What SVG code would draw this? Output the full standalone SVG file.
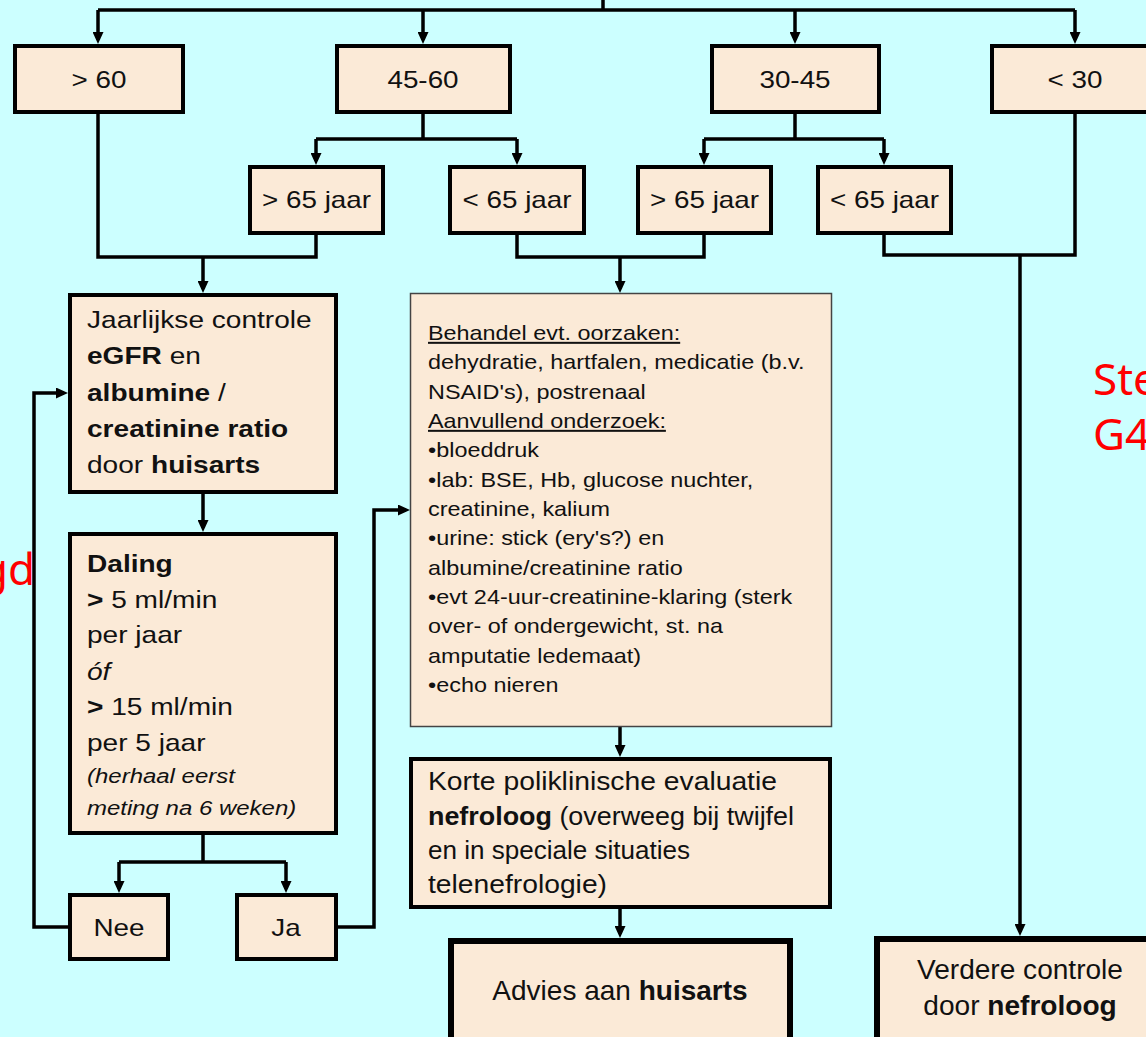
<svg xmlns="http://www.w3.org/2000/svg" width="1146" height="1037" viewBox="0 0 1146 1037">
<style>
.box{fill:#FBEAD7;stroke:#000;stroke-width:4}
.thin{fill:#FBEAD7;stroke:#444;stroke-width:1.5}
.big{fill:#FBEAD7;stroke:#000;stroke-width:6}
.t{font-family:'Liberation Sans',Arial,Helvetica,sans-serif;fill:#111}
.s24{font-size:24px}
.s20{font-size:20px}
.c{text-anchor:middle}
.b{font-weight:bold}
.i{font-style:italic}
.u{text-decoration:underline}
.red{font-family:'Noto Sans','Open Sans',sans-serif;font-size:44px;fill:#FF0000}
.ln{fill:none;stroke:#000;stroke-width:3.5;stroke-linejoin:miter;stroke-linecap:butt}
.ar{marker-end:url(#ah)}
</style>
<defs>
<marker id="ah" markerUnits="userSpaceOnUse" markerWidth="12" markerHeight="11" refX="8" refY="5.5" orient="auto">
<path d="M0,0 L12,5.5 L0,11 z" fill="#000"/>
</marker>
</defs>
<rect x="0" y="0" width="1146" height="1037" fill="#CCFFFF"/>

<g id="connectors">
<path class="ln" d="M603,0 V10"/>
<path class="ln" d="M98,10 H1075"/>
<path class="ln ar" d="M98,10 V40"/>
<path class="ln ar" d="M423,10 V40"/>
<path class="ln ar" d="M795,10 V40"/>
<path class="ln ar" d="M1075,10 V40"/>
<path class="ln" d="M423,113 V139 M316,139 H517"/>
<path class="ln ar" d="M316,139 V161"/>
<path class="ln ar" d="M517,139 V161"/>
<path class="ln" d="M795,113 V139 M704,139 H884"/>
<path class="ln ar" d="M704,139 V161"/>
<path class="ln ar" d="M884,139 V161"/>
<path class="ln" d="M98,113 V257 H316 V234"/>
<path class="ln ar" d="M203,257 V289"/>
<path class="ln" d="M517,234 V257 H704 V234"/>
<path class="ln ar" d="M620,257 V289"/>
<path class="ln" d="M884,234 V255 H1075 V113"/>
<path class="ln ar" d="M1020,255 V932"/>
<path class="ln ar" d="M203,493 V528"/>
<path class="ln" d="M203,834 V862 M119,862 H286"/>
<path class="ln ar" d="M119,862 V889"/>
<path class="ln ar" d="M286,862 V889"/>
<path class="ln ar" d="M68,927 H34 V393 H64"/>
<path class="ln ar" d="M337,927 H374 V510 H406"/>
<path class="ln ar" d="M620,727 V753"/>
<path class="ln ar" d="M620,908 V934"/>
</g>

<g id="n_gt60"><rect class="box" x="15" y="46" width="168" height="66"/><text class="t s24 c" transform="translate(99,88) scale(1.16,1)">&gt; 60</text></g>
<g id="n_4560"><rect class="box" x="337" y="46" width="173" height="66"/><text class="t s24 c" transform="translate(423,88) scale(1.16,1)">45-60</text></g>
<g id="n_3045"><rect class="box" x="712" y="46" width="167" height="66"/><text class="t s24 c" transform="translate(795,88) scale(1.16,1)">30-45</text></g>
<g id="n_lt30"><rect class="box" x="992" y="46" width="170" height="66"/><text class="t s24 c" transform="translate(1075,88) scale(1.16,1)">&lt; 30</text></g>

<g id="n_a_gt65"><rect class="box" x="250" y="167" width="133" height="66"/><text class="t s24 c" transform="translate(316.5,208) scale(1.16,1)">&gt; 65 jaar</text></g>
<g id="n_a_lt65"><rect class="box" x="450" y="167" width="134" height="66"/><text class="t s24 c" transform="translate(517,208) scale(1.16,1)">&lt; 65 jaar</text></g>
<g id="n_b_gt65"><rect class="box" x="638" y="167" width="133" height="66"/><text class="t s24 c" transform="translate(704.5,208) scale(1.16,1)">&gt; 65 jaar</text></g>
<g id="n_b_lt65"><rect class="box" x="818" y="167" width="133" height="66"/><text class="t s24 c" transform="translate(884.5,208) scale(1.16,1)">&lt; 65 jaar</text></g>

<g id="n_jaarlijks"><rect class="box" x="70" y="295" width="266" height="197"/>
<text class="t s24" transform="translate(87,328) scale(1.17,1)">Jaarlijkse controle</text>
<text class="t s24" transform="translate(87,364) scale(1.17,1)"><tspan class="b">eGFR</tspan> en</text>
<text class="t s24" transform="translate(87,401) scale(1.17,1)"><tspan class="b">albumine</tspan> /</text>
<text class="t s24 b" transform="translate(87,437) scale(1.17,1)">creatinine ratio</text>
<text class="t s24" transform="translate(87,473) scale(1.17,1)">door <tspan class="b">huisarts</tspan></text>
</g>

<g id="n_daling"><rect class="box" x="70" y="534" width="266" height="299"/>
<text class="t s24 b" transform="translate(87,572) scale(1.17,1)">Daling</text>
<text class="t s24" transform="translate(87,608) scale(1.17,1)"><tspan class="b">&gt;</tspan> 5 ml/min</text>
<text class="t s24" transform="translate(87,643) scale(1.17,1)">per jaar</text>
<text class="t s24 i" transform="translate(87,680) scale(1.17,1)">óf</text>
<text class="t s24" transform="translate(87,715) scale(1.17,1)"><tspan class="b">&gt;</tspan> 15 ml/min</text>
<text class="t s24" transform="translate(87,751) scale(1.17,1)">per 5 jaar</text>
<text class="t i" font-size="20.5" transform="translate(87,783) scale(1.17,1)">(herhaal eerst</text>
<text class="t i" font-size="20.5" transform="translate(87,815) scale(1.17,1)">meting na 6 weken)</text>
</g>

<g id="n_nee"><rect class="box" x="70" y="895" width="98" height="64"/><text class="t s24 c" transform="translate(119,936) scale(1.16,1)">Nee</text></g>
<g id="n_ja"><rect class="box" x="237" y="895" width="99" height="64"/><text class="t s24 c" transform="translate(286,936) scale(1.16,1)">Ja</text></g>

<g id="n_behandel"><rect class="thin" x="410.5" y="293.5" width="421" height="433"/>
<text class="t s20 u" transform="translate(428,340) scale(1.17,1)">Behandel evt. oorzaken:</text>
<text class="t s20" transform="translate(428,369.3) scale(1.17,1)">dehydratie, hartfalen, medicatie (b.v.</text>
<text class="t s20" transform="translate(428,398.7) scale(1.17,1)">NSAID's), postrenaal</text>
<text class="t s20 u" transform="translate(428,428) scale(1.17,1)">Aanvullend onderzoek:</text>
<text class="t s20" transform="translate(428,457.3) scale(1.17,1)">•bloeddruk</text>
<text class="t s20" transform="translate(428,486.7) scale(1.17,1)">•lab: BSE, Hb, glucose nuchter,</text>
<text class="t s20" transform="translate(428,516) scale(1.17,1)">creatinine, kalium</text>
<text class="t s20" transform="translate(428,545.3) scale(1.17,1)">•urine: stick (ery's?) en</text>
<text class="t s20" transform="translate(428,574.7) scale(1.17,1)">albumine/creatinine ratio</text>
<text class="t s20" transform="translate(428,604) scale(1.17,1)">•evt 24-uur-creatinine-klaring (sterk</text>
<text class="t s20" transform="translate(428,633.3) scale(1.17,1)">over- of ondergewicht, st. na</text>
<text class="t s20" transform="translate(428,662.7) scale(1.17,1)">amputatie ledemaat)</text>
<text class="t s20" transform="translate(428,692) scale(1.17,1)">•echo nieren</text>
</g>

<g id="n_korte"><rect class="box" x="411" y="759" width="419" height="148"/>
<text class="t" font-size="25.5" x="428" y="790" textLength="349" lengthAdjust="spacingAndGlyphs">Korte poliklinische evaluatie</text>
<text class="t" font-size="25.5" x="428" y="825" textLength="366" lengthAdjust="spacingAndGlyphs"><tspan class="b">nefroloog</tspan> (overweeg bij twijfel</text>
<text class="t" font-size="25.5" x="428" y="859" textLength="262" lengthAdjust="spacingAndGlyphs">en in speciale situaties</text>
<text class="t" font-size="25.5" x="428" y="893" textLength="179" lengthAdjust="spacingAndGlyphs">telenefrologie)</text>
</g>

<g id="n_advies"><rect class="big" x="451" y="941" width="339" height="120"/>
<text class="t c" font-size="28" x="620" y="1000">Advies aan <tspan class="b">huisarts</tspan></text>
</g>

<g id="n_verdere"><rect class="big" x="877" y="939" width="290" height="120"/>
<text class="t c" font-size="27" transform="translate(1020,979) scale(1.04,1)">Verdere controle</text>
<text class="t c" font-size="27" transform="translate(1020,1015) scale(1.04,1)">door <tspan class="b">nefroloog</tspan></text>
</g>

<text class="red" x="1093" y="395">Ste</text>
<text class="red" x="1093" y="450">G4</text>
<text class="red" x="35" y="585" text-anchor="end">gd</text>
</svg>
